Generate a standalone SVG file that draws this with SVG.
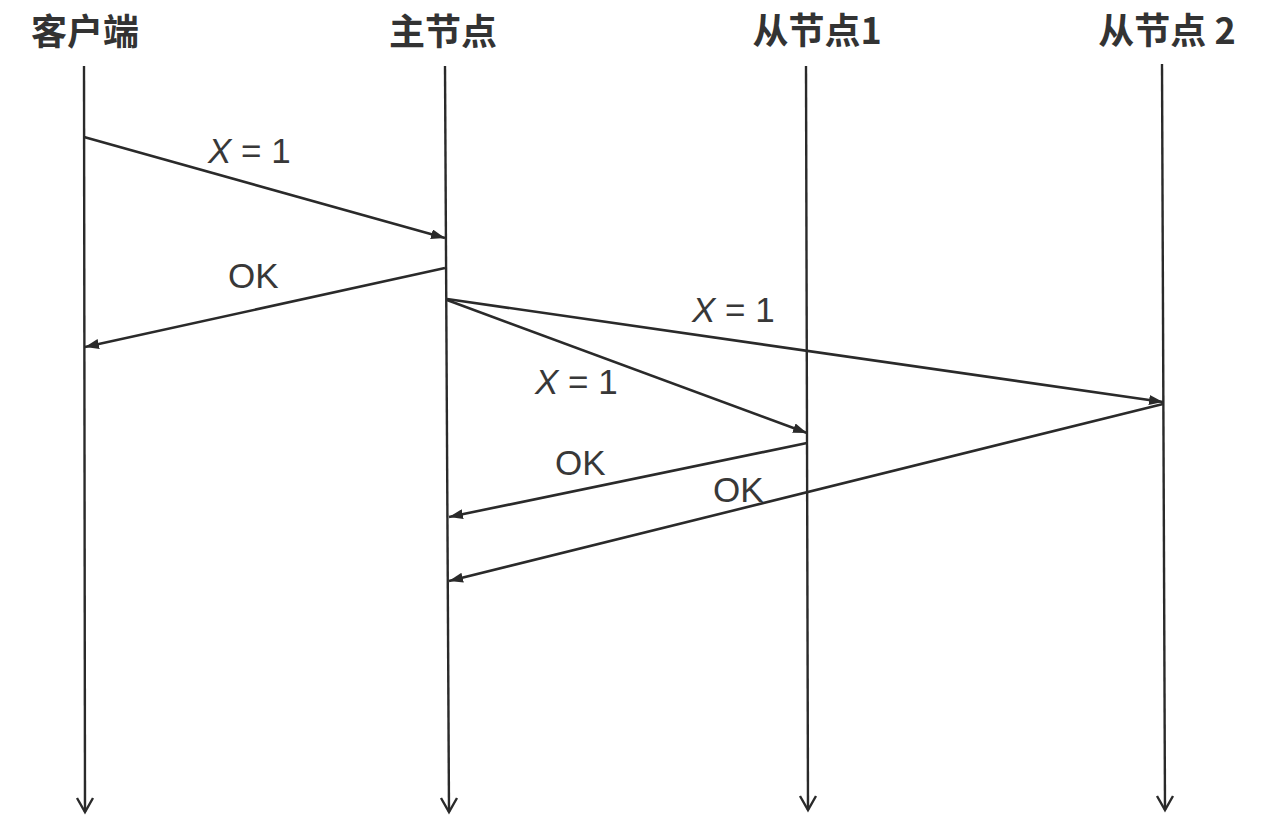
<svg xmlns="http://www.w3.org/2000/svg" width="1264" height="840" viewBox="0 0 1264 840">
<style>
.life{stroke:#2a2a2a;stroke-width:2.4;fill:none}
.tip{stroke:#2a2a2a;stroke-width:2.4;fill:none}
.msg{stroke:#2a2a2a;stroke-width:2.6;fill:none;marker-end:url(#ah)}
.head{font-family:"Noto Sans CJK SC","Liberation Sans",sans-serif;font-size:36px;font-weight:bold;fill:#333}
.lbl{font-family:"Liberation Sans","DejaVu Sans",sans-serif;font-size:35px;fill:#383838}
</style>
<defs>
<marker id="ah" viewBox="0 0 14 10" refX="14" refY="5" markerWidth="14" markerHeight="10" markerUnits="userSpaceOnUse" orient="auto">
<path d="M0,0 L14,5 L0,10 Z" fill="#2a2a2a"/>
</marker>
</defs>
<rect width="1264" height="840" fill="#fff"/>
<g id="client">
<text class="head" x="85" y="45" text-anchor="middle">客户端</text>
<line class="life" x1="84" y1="66" x2="85" y2="812"/>
<path class="tip" d="M77,798 L85,812 L93,798"/>
</g>
<g id="master">
<text class="head" x="443" y="45" text-anchor="middle">主节点</text>
<line class="life" x1="445" y1="66" x2="449" y2="812"/>
<path class="tip" d="M441,798 L449,812 L457,798"/>
</g>
<g id="slave1">
<text class="head" x="817" y="44" text-anchor="middle">从节点1</text>
<line class="life" x1="806" y1="66" x2="808" y2="810"/>
<path class="tip" d="M800,796 L808,810 L816,796"/>
</g>
<g id="slave2">
<text class="head" x="1167" y="44" text-anchor="middle">从节点 2</text>
<line class="life" x1="1162" y1="64" x2="1165" y2="810"/>
<path class="tip" d="M1157,796 L1165,810 L1173,796"/>
</g>
<g id="connectors">
<line class="msg" x1="84" y1="137" x2="445" y2="238"/>
<line class="msg" x1="445" y1="268" x2="85" y2="347"/>
<line class="msg" x1="447" y1="299" x2="1163" y2="402"/>
<line class="msg" x1="447" y1="300" x2="807" y2="433"/>
<line class="msg" x1="807" y1="443" x2="449" y2="517"/>
<line class="msg" x1="1163" y1="404" x2="449" y2="581"/>
</g>
<g id="labels">
<text class="lbl" x="208" y="163"><tspan font-style="italic">X</tspan> = 1</text>
<text class="lbl" x="228" y="288">OK</text>
<text class="lbl" x="692" y="322"><tspan font-style="italic">X</tspan> = 1</text>
<text class="lbl" x="535" y="394"><tspan font-style="italic">X</tspan> = 1</text>
<text class="lbl" x="555" y="475">OK</text>
<text class="lbl" x="713" y="502">OK</text>
</g>
</svg>
